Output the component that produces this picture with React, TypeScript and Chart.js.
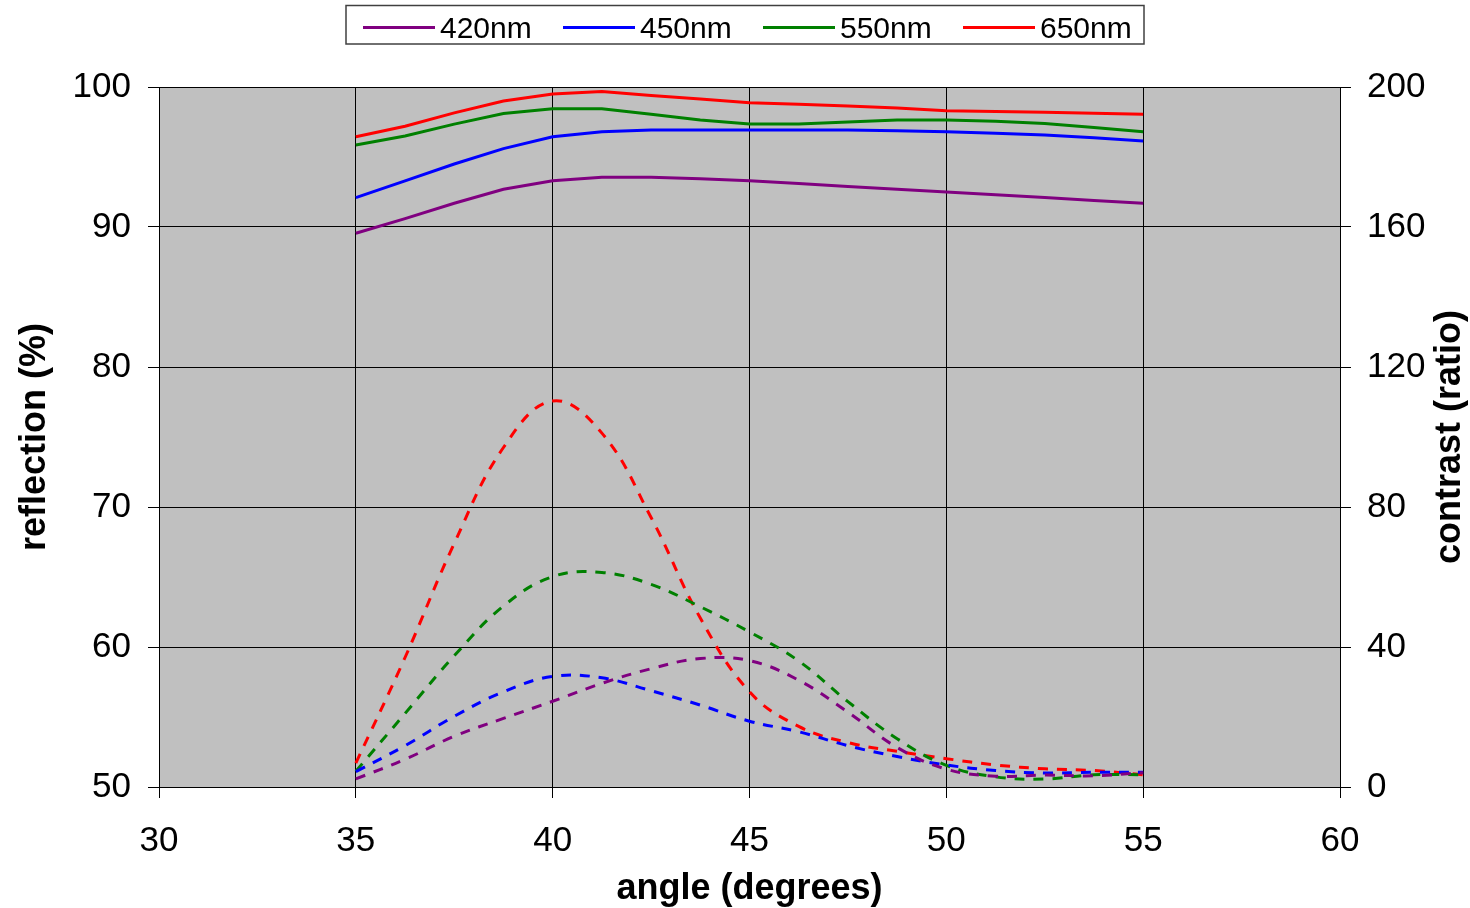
import React, { useEffect, useRef } from 'react';
import { Chart, registerables } from 'chart.js';

Chart.register(...registerables);

const angles = [35, 36.25, 37.5, 38.75, 40, 41.25, 42.5, 43.75, 45, 46.25, 47.5, 48.75, 50, 51.25, 52.5, 53.75, 55];
const seriesNames = ['420nm', '450nm', '550nm', '650nm'];
const seriesColors = ['#800080', '#0000FF', '#008000', '#FF0000'];
const rightAxisTitle = 'contrast (ratio)';

const reflection420 = [89.55, 90.6, 91.7, 92.7, 93.3, 93.55, 93.55, 93.45, 93.3, 93.1, 92.9, 92.7, 92.5, 92.3, 92.1, 91.9, 91.7];
const reflection450 = [92.1, 93.3, 94.5, 95.6, 96.45, 96.8, 96.93, 96.93, 96.93, 96.93, 96.93, 96.88, 96.8, 96.7, 96.57, 96.37, 96.14];
const reflection550 = [95.86, 96.5, 97.35, 98.1, 98.45, 98.45, 98.05, 97.64, 97.36, 97.36, 97.5, 97.64, 97.64, 97.55, 97.4, 97.1, 96.8];
const reflection650 = [96.45, 97.2, 98.15, 99.0, 99.5, 99.67, 99.4, 99.15, 98.88, 98.77, 98.65, 98.5, 98.31, 98.25, 98.2, 98.12, 98.05];

const contrast420 = [2.3, 7.9, 14.5, 19.6, 24.5, 29.6, 33.8, 36.7, 36.1, 30.5, 21.4, 11.3, 5.1, 3.1, 3.4, 3.2, 4.1];
const contrast450 = [4.4, 11.8, 20.2, 27.2, 31.6, 31.2, 27.5, 23.4, 18.8, 15.8, 11.8, 8.7, 6.3, 4.7, 4.0, 4.2, 4.2];
const contrast550 = [4.5, 21, 37.5, 51.7, 60.1, 61.3, 57.9, 51.5, 44.3, 36, 24.4, 13.8, 6.2, 2.9, 2.3, 3.5, 3.5];
const contrast650 = [6.8, 37, 69.6, 97, 110.3, 101.1, 77, 48.3, 27.2, 17.3, 12.7, 10.2, 8.1, 6.3, 5.2, 4.7, 3.5];

const reflectionSeries = [reflection420, reflection450, reflection550, reflection650];
const contrastSeries = [contrast420, contrast450, contrast550, contrast650];

const FONT = '"Liberation Sans", Arial, sans-serif';

const toPoints = (vals: number[]) => vals.map((v, i) => ({ x: angles[i], y: v }));

const plotBg = {
  id: 'plotBg',
  beforeDraw(chart: any) {
    const { ctx, chartArea } = chart;
    ctx.save();
    ctx.fillStyle = '#FFFFFF';
    ctx.fillRect(0, 0, chart.width, chart.height);
    ctx.fillStyle = '#C0C0C0';
    ctx.fillRect(chartArea.left, chartArea.top, chartArea.right - chartArea.left, chartArea.bottom - chartArea.top);
    ctx.restore();
  },
};

const boxLegend = {
  id: 'boxLegend',
  afterDraw(chart: any) {
    const ctx = chart.ctx;
    ctx.save();
    ctx.strokeStyle = '#404040';
    ctx.lineWidth = 1.5;
    ctx.strokeRect(346, 5.5, 798, 38.5);
    ctx.font = `30px ${FONT}`;
    ctx.textBaseline = 'alphabetic';
    ctx.textAlign = 'left';
    seriesNames.forEach((name, i) => {
      const x0 = 363 + i * 200;
      ctx.strokeStyle = seriesColors[i];
      ctx.lineWidth = 3;
      ctx.beginPath();
      ctx.moveTo(x0, 27.5);
      ctx.lineTo(x0 + 72, 27.5);
      ctx.stroke();
      ctx.fillStyle = '#000';
      ctx.fillText(name, x0 + 77, 38);
    });
    // right axis title, reading bottom-to-top
    const area = chart.chartArea;
    ctx.translate(1450, (area.top + area.bottom) / 2);
    ctx.rotate(-Math.PI / 2);
    ctx.font = `bold 36px ${FONT}`;
    ctx.textAlign = 'center';
    ctx.textBaseline = 'middle';
    ctx.fillStyle = '#000';
    ctx.fillText(rightAxisTitle, 0, 0);
    ctx.restore();
  },
};

export default function App() {
  const ref = useRef<HTMLCanvasElement | null>(null);

  useEffect(() => {
    document.body.style.margin = '0';
    if (!ref.current) return;
    const datasets: any[] = [];
    reflectionSeries.forEach((vals, i) => {
      datasets.push({
        label: seriesNames[i],
        data: toPoints(vals),
        yAxisID: 'y',
        borderColor: seriesColors[i],
        backgroundColor: seriesColors[i],
        borderWidth: 3,
        pointRadius: 0,
        tension: 0,
        fill: false,
      });
    });
    contrastSeries.forEach((vals, i) => {
      datasets.push({
        label: seriesNames[i] + ' contrast',
        data: toPoints(vals),
        yAxisID: 'y2',
        borderColor: seriesColors[i],
        backgroundColor: seriesColors[i],
        borderWidth: 3,
        borderDash: [10, 9],
        pointRadius: 0,
        tension: 0.4,
        fill: false,
      });
    });

    const tickFont = { family: FONT, size: 35 };
    const titleFont = { family: FONT, size: 36, weight: 'bold' as const, lineHeight: 1.2 };

    const chart = new Chart(ref.current, {
      type: 'line',
      data: { datasets },
      plugins: [plotBg, boxLegend],
      options: {
        animation: false,
        responsive: false,
        devicePixelRatio: 1,
        layout: { padding: { top: 87, left: 0, right: 0, bottom: 0 } },
        plugins: { legend: { display: false }, tooltip: { enabled: false } },
        scales: {
          x: {
            type: 'linear',
            position: 'bottom',
            min: 30,
            max: 60,
            ticks: { stepSize: 5, color: '#000', font: tickFont, padding: 22, maxRotation: 0 },
            grid: { color: '#000', lineWidth: 1, tickLength: 11 },
            border: { color: '#000', width: 1 },
            title: { display: true, text: 'angle (degrees)', color: '#000', font: { ...titleFont, lineHeight: 1.04 }, padding: 0 },
            afterFit: (s: any) => { s.height = 121; },
          },
          y: {
            type: 'linear',
            position: 'left',
            min: 50,
            max: 100,
            ticks: { stepSize: 10, color: '#000', font: tickFont, padding: 17 },
            grid: { color: '#000', lineWidth: 1, tickLength: 11 },
            border: { color: '#000', width: 1 },
            title: { display: true, text: 'reflection (%)', color: '#000', font: titleFont, padding: { top: 13 } },
            afterFit: (s: any) => { s.width = 159; },
          },
          y2: {
            type: 'linear',
            position: 'right',
            min: 0,
            max: 200,
            ticks: { stepSize: 40, color: '#000', font: tickFont, padding: 16 },
            grid: { drawOnChartArea: false, color: '#000', lineWidth: 1, tickLength: 11 },
            border: { color: '#000', width: 1 },
            title: { display: false },
            afterFit: (s: any) => { s.width = 130; },
          },
        },
      } as any,
    });
    return () => chart.destroy();
  }, []);

  return (
    <div style={{ width: 1470, height: 908, position: 'relative' }}>
      <canvas ref={ref} width={1470} height={908} style={{ display: 'block' }} />
    </div>
  );
}
